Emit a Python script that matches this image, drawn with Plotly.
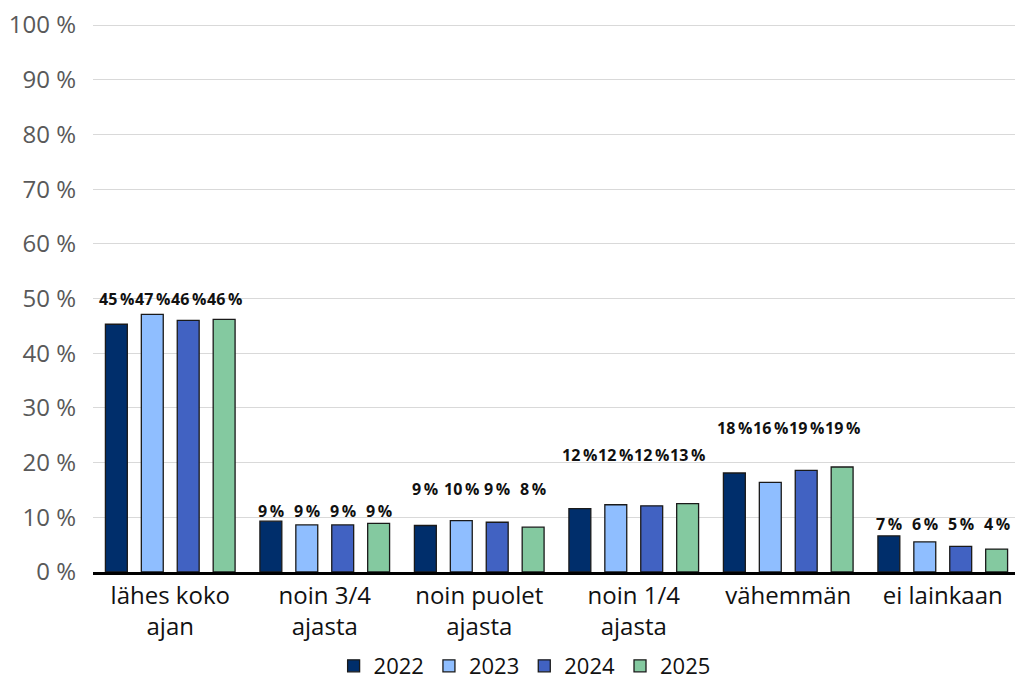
import plotly.graph_objects as go

categories = ["lähes koko<br>ajan", "noin 3/4<br>ajasta", "noin puolet<br>ajasta",
              "noin 1/4<br>ajasta", "vähemmän", "ei lainkaan"]
years = ["2022", "2023", "2024", "2025"]
v2022 = [45.3, 9.3, 8.5, 11.6, 18.1, 6.6]
v2023 = [47.1, 8.6, 9.4, 12.3, 16.4, 5.5]
v2024 = [46.0, 8.6, 9.1, 12.1, 18.6, 4.7]
v2025 = [46.2, 8.9, 8.2, 12.5, 19.2, 4.2]
labels2022 = ["45\u2009%", "9\u2009%", "9\u2009%", "12\u2009%", "18\u2009%", "7\u2009%"]
labels2023 = ["47\u2009%", "9\u2009%", "10\u2009%", "12\u2009%", "16\u2009%", "6\u2009%"]
labels2024 = ["46\u2009%", "9\u2009%", "9\u2009%", "12\u2009%", "19\u2009%", "5\u2009%"]
labels2025 = ["46\u2009%", "9\u2009%", "8\u2009%", "13\u2009%", "19\u2009%", "4\u2009%"]
y_tick_values = [0, 10, 20, 30, 40, 50, 60, 70, 80, 90, 100]
y_tick_labels = ["0 %", "10 %", "20 %", "30 %", "40 %", "50 %", "60 %", "70 %",
                 "80 %", "90 %", "100 %"]

series = [v2022, v2023, v2024, v2025]
labels = [labels2022, labels2023, labels2024, labels2025]
colors = ["#002E6B", "#8FBEFF", "#4162C2", "#84C9A0"]

# layout: vertical placement of the label row for each category (in axis units)
label_row_y = [50.0, 11.1, 15.1, 21.4, 26.3, 8.8]

fig = go.Figure()
for name, vals, col in zip(years, series, colors):
    fig.add_trace(go.Bar(x=categories, y=vals, name=name,
                         marker=dict(color=col, line=dict(color="#1a1a1a", width=1.3))))

bargap = 0.07
slot = (1 - bargap) / 4
annotations = []
for si, labs in enumerate(labels):
    off = (si - 1.5) * slot
    for ci, t in enumerate(labs):
        annotations.append(dict(x=ci + off, y=label_row_y[ci], xref="x", yref="y",
                                text="<b>" + t + "</b>", showarrow=False,
                                font=dict(size=16, color="#111111", family="Open Sans"),
                                xanchor="center", yanchor="middle"))

fig.update_layout(
    width=1023, height=679,
    barmode="group", bargap=bargap, bargroupgap=0.39,
    plot_bgcolor="white", paper_bgcolor="white",
    margin=dict(l=85, r=11, t=16, b=115, autoexpand=False),
    font=dict(family="Open Sans", size=22, color="#595959"),
    yaxis=dict(range=[0, 100.2], tickmode="array", tickvals=y_tick_values,
               ticktext=y_tick_labels, ticklabeloverflow="allow",
               showgrid=True, gridcolor="#D9D9D9", gridwidth=1.3, zeroline=False,
               tickfont=dict(size=24, color="#595959"), ticklabelstandoff=16),
    xaxis=dict(showline=True, linecolor="black", linewidth=2.5,
               tickfont=dict(size=24, color="#111111"), ticks=""),
    legend=dict(orientation="h", x=0.505, xanchor="center", xref="container",
                y=0.0, yanchor="bottom", yref="container",
                font=dict(size=22, color="#111111"), itemwidth=30,
                tracegroupgap=0),
    annotations=annotations,
)
fig.write_html("out.html")
